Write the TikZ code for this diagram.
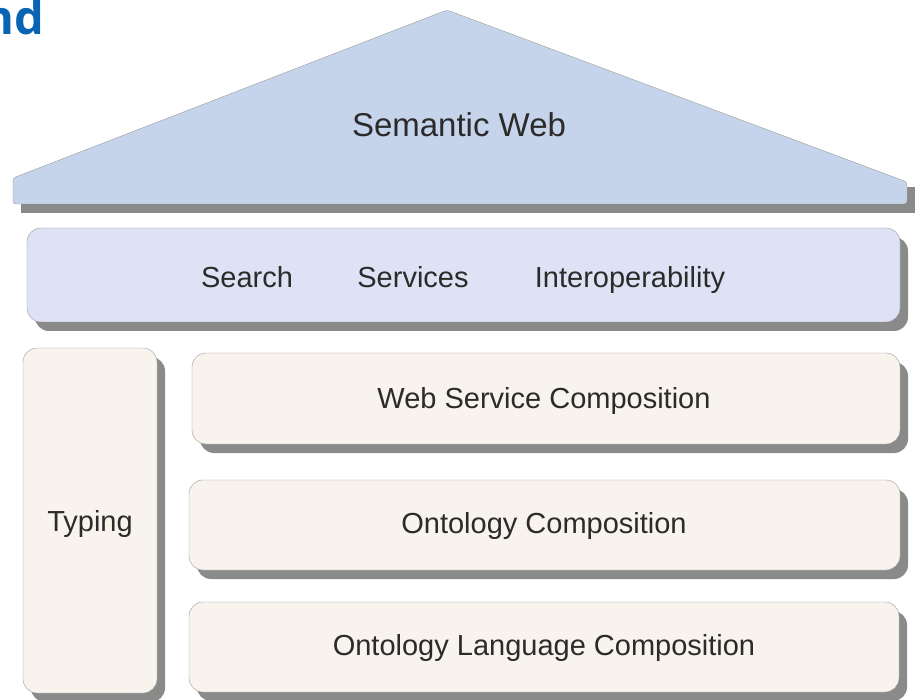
\documentclass[tikz,border=0pt]{standalone}
\usepackage{fontspec}
\setmainfont{Liberation Sans}
\newfontfamily\headfont{Open Sans}
\usetikzlibrary{shadows}
\definecolor{roofblue}{HTML}{C6D4EB}
\definecolor{barblue}{HTML}{DDE3F4}
\definecolor{cream}{HTML}{F8F3EC}
\definecolor{edgegray}{HTML}{9A9A9A}
\definecolor{shadegray}{HTML}{8A8A8A}
\definecolor{textgray}{HTML}{2B2B2B}
\definecolor{headblue}{HTML}{0A64B4}

\begin{document}
\begin{tikzpicture}[x=1pt,y=-1pt,
  layer/.style={draw=edgegray,rounded corners=14pt,inner sep=0pt,
    drop shadow={shadow xshift=8pt,shadow yshift=-9pt,fill=shadegray,opacity=1}},
  word/.style={anchor=base,text=textgray,inner sep=0pt,font=\fontsize{29}{34}\selectfont}]
\useasboundingbox (0,0) rectangle (923,700);

\node[anchor=base east,inner sep=0pt,text=headblue,font=\headfont\bfseries\fontsize{47}{52}\selectfont] (head) at (44,35) {nd};

\fill[shadegray] (21,187) rectangle (915,213);
\draw[draw=edgegray,fill=roofblue,rounded corners=3pt] (13,204) -- (13,178) -- (447,10) -- (907,182) -- (907,204) -- cycle;
\node[word,font=\fontsize{33}{38}\selectfont] (web) at (459,137) {Semantic Web};

\node[layer,fill=barblue,minimum width=873pt,minimum height=94pt] (bar) at (463.5,275) {};
\node[word] (search) at (247,287.5) {Search};
\node[word] (services) at (413,287.5) {Services};
\node[word] (interop) at (630,287.5) {Interoperability};

\node[layer,fill=cream,minimum width=134pt,minimum height=345pt] (typing) at (90,520.5) {};
\node[layer,fill=cream,minimum width=708pt,minimum height=91pt] (wsc) at (546,398.5) {};
\node[layer,fill=cream,minimum width=711pt,minimum height=90pt] (oc) at (544.5,525) {};
\node[layer,fill=cream,minimum width=710pt,minimum height=90pt] (olc) at (544,647) {};

\node[word] (typ) at (90,531.5) {Typing};
\node[word] (wsctext) at (544,408) {Web Service Composition};
\node[word] (octext) at (544,533) {Ontology Composition};
\node[word] (olctext) at (544,655) {Ontology Language Composition};
\end{tikzpicture}
\end{document}
